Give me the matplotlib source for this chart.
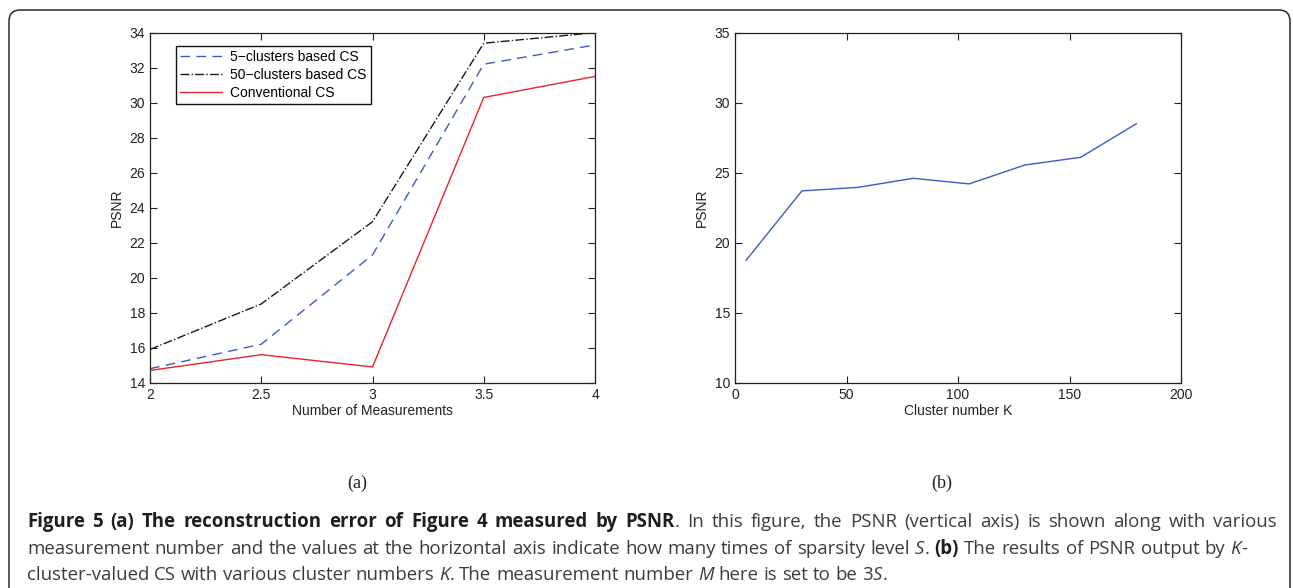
import matplotlib
matplotlib.use('Agg')
import matplotlib.pyplot as plt
from matplotlib.patches import FancyBboxPatch
from matplotlib.transforms import IdentityTransform

# panel (a): PSNR vs number of measurements (times sparsity S)
meas = [2, 2.5, 3, 3.5, 4]
psnr_5c = [14.8, 16.2, 21.3, 32.2, 33.3]
psnr_50c = [15.9, 18.5, 23.2, 33.4, 34.0]
psnr_conv = [14.7, 15.6, 14.9, 30.3, 31.5]
labels_a = ['5\u2212clusters based CS', '50\u2212clusters based CS', 'Conventional CS']

# panel (b): PSNR vs cluster number K
k_vals = [5, 30, 55, 80, 105, 130, 155, 180]
psnr_k = [18.75, 23.7, 23.95, 24.6, 24.2, 25.55, 26.1, 28.5]

W, H = 1293, 588
plt.rcParams['font.family'] = ['Liberation Sans', 'DejaVu Sans']
fig = plt.figure(figsize=(W / 100, H / 100), dpi=100)


def px_axes(x0, y0, x1, y1):
    # pixel box (top-left origin) -> figure fraction
    return fig.add_axes([x0 / W, 1 - y1 / H, (x1 - x0) / W, (y1 - y0) / H])


def matlab_style(ax):
    ax.tick_params(direction='in', top=True, right=True, length=5, width=0.8,
                   labelsize=10, colors='#222222')
    for s in ax.spines.values():
        s.set_linewidth(0.9)
        s.set_color('#222222')


ax1 = px_axes(150, 32.7, 595, 382.7)
ax1.plot(meas, psnr_5c, color='#3b5bc4', lw=1.0, dashes=(7, 4.5), label=labels_a[0])
ax1.plot(meas, psnr_50c, color='#1a1a1a', lw=1.0, ls='-.', label=labels_a[1])
ax1.plot(meas, psnr_conv, color='#e8232b', lw=1.0, label=labels_a[2])
ax1.set_xlim(2, 4)
ax1.set_ylim(14, 34)
ax1.set_xticks([2, 2.5, 3, 3.5, 4])
ax1.set_xticklabels(['2', '2.5', '3', '3.5', '4'])
ax1.set_yticks(range(14, 35, 2))
ax1.set_xlabel('Number of Measurements', fontsize=10, labelpad=2, color='#222222')
ax1.set_ylabel('PSNR', fontsize=10, labelpad=4, color='#222222')
matlab_style(ax1)
leg = ax1.legend(loc='upper left', bbox_to_anchor=(0.058, 0.962), fontsize=10,
                 handlelength=3.0, handletextpad=0.6, borderpad=0.3, labelspacing=0.27,
                 fancybox=False, framealpha=1, edgecolor='#111111', borderaxespad=0)
leg.get_frame().set_linewidth(1.0)

ax2 = px_axes(735, 32.7, 1181, 382.7)
ax2.plot(k_vals, psnr_k, color='#3b5bc4', lw=1.0)
ax2.set_xlim(0, 200)
ax2.set_ylim(10, 35)
ax2.set_xticks(range(0, 201, 50))
ax2.set_yticks(range(10, 36, 5))
ax2.set_xlabel('Cluster number K', fontsize=10, labelpad=2, color='#222222')
ax2.set_ylabel('PSNR', fontsize=10, labelpad=4, color='#222222')
matlab_style(ax2)

# sub-figure tags
fig.text(357 / W, 1 - 483 / H, '(a)', family='Liberation Serif', fontsize=13,
         ha='center', va='center', color='#222222')
fig.text(942 / W, 1 - 483 / H, '(b)', family='Liberation Serif', fontsize=13,
         ha='center', va='center', color='#222222')

# outer frame with rounded top corners (bottom runs off the image)
frame = FancyBboxPatch((9, -30), 1281, 608, boxstyle='round,pad=0,rounding_size=11',
                       transform=IdentityTransform(), fill=False, lw=1.1, ec='#2a2a2a')
fig.patches.append(frame)

# caption, built from styled pieces
cap_font = ['Open Sans', 'DejaVu Sans']
cap_lines = [
    [('Figure 5 (a) The reconstruction error of Figure 4 measured by PSNR', 'bold', 'normal'),
     ('. In this figure, the PSNR (vertical axis) is shown along with various', 'normal', 'normal')],
    [('measurement number and the values at the horizontal axis indicate how many times of sparsity level ', 'normal', 'normal'),
     ('S', 'normal', 'italic'), ('. ', 'normal', 'normal'), ('(b)', 'bold', 'normal'),
     (' The results of PSNR output by ', 'normal', 'normal'), ('K', 'normal', 'italic'),
     ('-', 'normal', 'normal')],
    [('cluster-valued CS with various cluster numbers ', 'normal', 'normal'), ('K', 'normal', 'italic'),
     ('. The measurement number ', 'normal', 'normal'), ('M', 'normal', 'italic'),
     (' here is set to be 3', 'normal', 'normal'), ('S', 'normal', 'italic'), ('.', 'normal', 'normal')],
]
cap_base = [527, 554, 580]   # baselines, px from top
cap_right = [1277, 1247, None]   # lines 1-2 are justified in the source
cap_left = 27

renderer = fig.canvas.get_renderer()


def text_w(s, size, wt, st):
    t = fig.text(0, 0, s, family=cap_font, fontsize=size, fontweight=wt, fontstyle=st)
    w = t.get_window_extent(renderer).width
    t.remove()
    return w


def split_line(pieces):
    items = []
    for txt, wt, st in pieces:
        parts = txt.split(' ')
        for i, p in enumerate(parts):
            if i > 0:
                items.append((None, wt, st))
            if p:
                items.append((p, wt, st))
    return items


def space_w(size, wt, st):
    return text_w('x x', size, wt, st) - text_w('xx', size, wt, st)


def natural_width(items, size):
    w = 0
    for p, wt, st in items:
        w += space_w(size, wt, st) if p is None else text_w(p, size, wt, st)
    return w


# font size so that the last (unjustified) line ends where it does in the source
probe = split_line(cap_lines[2])
cap_size = 10 * (888 - cap_left) / natural_width(probe, 10)

for pieces, yy, right in zip(cap_lines, cap_base, cap_right):
    items = split_line(pieces)
    nat = natural_width(items, cap_size)
    n_sp = sum(1 for p, _, _ in items if p is None)
    extra = (right - cap_left - nat) / n_sp if right else 0
    x = cap_left
    for p, wt, st in items:
        if p is None:
            x += space_w(cap_size, wt, st) + extra
            continue
        col = '#1e1e1e' if wt == 'bold' else '#3c3c3c'
        fig.text(x / W, 1 - yy / H, p, family=cap_font, fontsize=cap_size,
                 fontweight=wt, fontstyle=st, va='baseline', ha='left', color=col)
        x += text_w(p, cap_size, wt, st)

fig.savefig('out.png', dpi=100)
